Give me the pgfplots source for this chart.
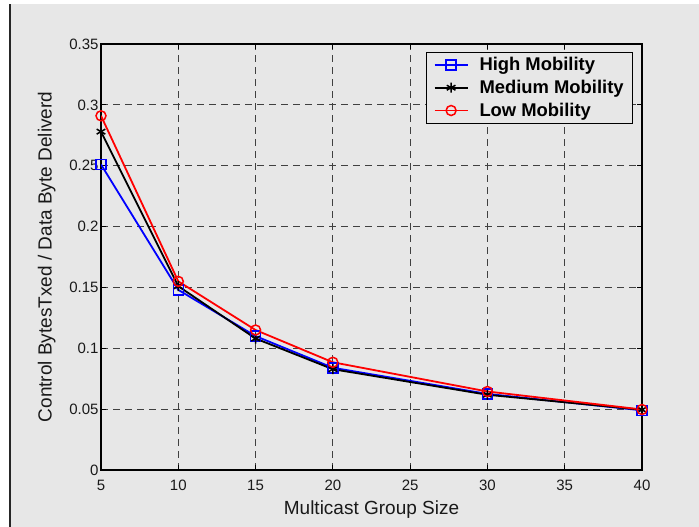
\documentclass[border=0pt]{standalone}
\usepackage{pgfplots}
\pgfplotsset{compat=1.18}
\usepackage{fontspec}
\setmainfont{Liberation Sans}
\definecolor{figgray}{RGB}{231,231,231}
\definecolor{mblue}{RGB}{0,0,255}
\definecolor{mred}{RGB}{255,0,0}

% Control overhead per delivered data byte versus group size
\pgfplotstableread{
size  high    medium  low
5     0.251   0.278   0.291
10    0.148   0.151   0.155
15    0.110   0.108   0.115
20    0.084   0.0828  0.0885
30    0.0625  0.0618  0.0645
40    0.049   0.0495  0.0497
}\mobility

\begin{document}
\begin{tikzpicture}[x=1bp,y=1bp]
\useasboundingbox (0,0) rectangle (699,527);
\fill[white] (0,0) rectangle (699,527);
\fill[figgray] (9,0) rectangle (699,523);
\draw[black!85, line width=1.5bp] (9.75,0) -- (9.75,523);
\begin{axis}[
  at={(101bp,57bp)}, anchor=south west,
  scale only axis, width=541bp, height=426bp,
  xmin=5, xmax=40, ymin=0, ymax=0.35,
  xtick={5,10,15,20,25,30,35,40},
  ytick={0,0.05,0.1,0.15,0.2,0.25,0.3,0.35},
  yticklabels={0,0.05,0.1,0.15,0.2,0.25,0.3,0.35},
  grid=major,
  major grid style={black!75, line width=0.8bp, dash pattern=on 7bp off 5bp},
  tick align=inside, major tick length=5bp,
  axis line style={black, line width=1.1bp},
  tick style={black, line width=0.8bp},
  axis background/.style={fill=figgray},
  tick label style={font=\fontsize{15bp}{16bp}\selectfont, text=black!90},
  /pgf/number format/assume math mode=true,
  xticklabel style={yshift=-7bp},
  yticklabel style={xshift=1bp},
  xlabel={Multicast Group Size},
  ylabel={Control BytesTxed / Data Byte Deliverd},
  label style={font=\fontsize{19bp}{21bp}\selectfont, text=black!90},
  xlabel style={yshift=-3bp},
  ylabel style={yshift=7bp},
  legend cell align=left,
  legend style={at={(axis description cs:0.9834,0.981)}, anchor=north east,
    draw=black, line width=0.8bp, fill=figgray,
    font=\bfseries\fontsize{18.4bp}{20bp}\selectfont,
    row sep=4bp, inner xsep=7bp, inner ysep=3bp,
    /tikz/every odd column/.append style={column sep=9bp}},
  legend image code/.code={%
    \draw[mark repeat=2, mark phase=2] plot coordinates {(0bp,0bp) (16.5bp,0bp) (33bp,0bp)};},
  every axis plot/.append style={line width=1.8bp, mark size=5bp, mark options={solid, line width=1.5bp}},
]
\addplot[mblue, mark=square] table[x=size, y=high] {\mobility};
\addlegendentry{High Mobility}
\addplot[black, mark=asterisk] table[x=size, y=medium] {\mobility};
\addlegendentry{Medium Mobility}
\addplot[mred, mark=o] table[x=size, y=low] {\mobility};
\addlegendentry{Low Mobility}
\end{axis}
\end{tikzpicture}
\end{document}
